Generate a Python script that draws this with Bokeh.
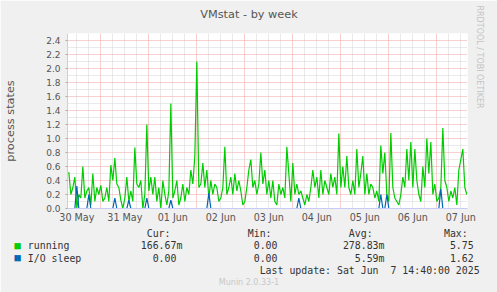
import numpy as np
from bokeh.plotting import figure
from bokeh.models import (FixedTicker, Grid, Label, PrintfTickFormatter, Range1d,
                          ColumnDataSource, Title)
from bokeh.embed import file_html
from bokeh.resources import INLINE

# ---------------- data ----------------
title_text = "VMstat - by week"
y_label = "process states"
# time axis in hours since 30 May 00:00
x_start_h = 7 + 20 / 60
x_span_h = 200
first_sample_h = 8
day_labels = ["30 May", "31 May", "01 Jun", "02 Jun", "03 Jun", "04 Jun", "05 Jun", "06 Jun", "07 Jun"]
y_ticks = [0.0, 0.2, 0.4, 0.6, 0.8, 1.0, 1.2, 1.4, 1.6, 1.8, 2.0, 2.2, 2.4]
y_max = 2.5

running = [
    0.52, 0.2, 0.3, 0.45, 0.0, 0.2, 0.15, 0.6, 0.15, 0.25, 0.3, 0.05, 0.5, 0.1, 0.3, 0.2, 0.33,
    0.1, 0.15, 0.3, 0.1, 0.62, 0.4, 0.72, 0.35, 0.3, 0.12, 0.0, 0.15, 0.45, 0.1, 0.25, 0.1, 0.87, 0.35, 0.3, 0.4, 0.0, 0.2, 1.2, 0.25,
    0.45, 0.2, 0.45, 0.1, 0.3, 0.0, 0.4, 0.2, 0.05, 0.25, 1.5, 0.15, 0.25, 0.4, 0.05, 0.15, 0.35, 0.1, 0.3, 0.2, 0.55, 0.35, 0.75, 2.1,
    0.3, 0.35, 0.65, 0.3, 0.55, 0.15, 0.4, 0.2, 0.35, 0.3, 0.1, 0.15, 0.3, 0.88, 0.2, 0.3, 0.45, 0.2, 0.5, 0.25, 0.4, 0.25, 0.05, 0.1,
    0.3, 0.55, 0.7, 0.3, 0.4, 0.2, 0.35, 0.8, 0.35, 0.55, 0.2, 0.4, 0.15, 0.4, 0.1, 0.05, 0.35, 0.2, 0.3, 0.15, 0.88, 0.5, 0.1, 0.65,
    0.2, 0.35, 0.2, 0.25, 0.15, 0.05, 0.2, 0.1, 0.3, 0.55, 0.3, 0.45, 0.15, 0.55, 0.2, 0.4, 0.3, 0.2, 0.5, 0.3, 0.45, 0.2, 1.07, 0.3,
    0.6, 0.3, 0.75, 0.3, 0.2, 0.4, 0.2, 0.85, 0.3, 0.5, 0.75, 0.2, 0.5, 0.2, 0.35, 0.3, 0.15, 0.25, 0.1, 0.9, 0.5, 0.8, 0.2, 0.1,
    1.08, 0.3, 0.15, 0.1, 0.05, 0.2, 0.45, 0.3, 0.85, 0.4, 0.95, 0.3, 0.85, 0.4, 0.2, 0.1, 0.6, 0.3, 1.0, 0.5, 0.95, 0.2, 0.35, 0.1,
    0.15, 0.3, 1.15, 0.4, 0.3, 0.1, 0.25, 0.15, 0.3, 0.05, 0.55, 0.7, 0.85, 0.3, 0.2,
]
io_sleep = [
    0, 0, 0, 0, 0.32, 0, 0, 0, 0, 0, 0.2, 0, 0, 0, 0, 0, 0,
    0, 0, 0, 0, 0, 0, 0.15, 0, 0, 0, 0, 0, 0, 0.12, 0, 0, 0, 0, 0, 0, 0, 0, 0.15, 0,
    0, 0, 0, 0, 0, 0, 0, 0, 0, 0, 0.12, 0, 0, 0, 0, 0, 0, 0, 0, 0, 0, 0, 0, 0,
    0, 0, 0, 0, 0, 0.22, 0, 0, 0, 0, 0, 0, 0, 0, 0, 0, 0, 0, 0, 0, 0, 0, 0, 0,
    0, 0, 0, 0, 0, 0, 0, 0, 0, 0, 0, 0, 0, 0, 0, 0, 0, 0, 0, 0, 0, 0, 0, 0,
    0, 0, 0.15, 0, 0, 0, 0, 0, 0, 0, 0, 0, 0, 0, 0, 0, 0, 0, 0, 0, 0, 0, 0, 0,
    0, 0, 0, 0, 0, 0, 0, 0, 0, 0, 0, 0, 0, 0, 0, 0, 0, 0, 0, 0.2, 0, 0, 0.2, 0,
    0, 0, 0, 0, 0, 0, 0, 0, 0, 0, 0, 0, 0, 0, 0, 0, 0, 0, 0, 0, 0, 0, 0, 0,
    0, 0.28, 0, 0, 0, 0, 0, 0, 0, 0, 0, 0, 0, 0, 0,
]
series_names = ["running", "I/O sleep"]
series_colors = ["#00CC00", "#0066B3"]
cur_vals = ["166.67m", "0.00"]
min_vals = ["0.00", "0.00"]
avg_vals = ["278.83m", "5.59m"]
max_vals = ["5.75", "1.62"]
col_headers = ["Cur:", "Min:", "Avg:", "Max:"]
last_update = "Last update: Sat Jun  7 14:40:00 2025"
watermark = "Munin 2.0.33-1"
side_text = "RRDTOOL / TOBI OETIKER"

# ---------------- layout ----------------
W, H = 497, 292
FL, FT, FW, FH = 67, 33, 400, 175
SANS = "DejaVu Sans"
MONO = "DejaVu Sans Mono"
TXT = "#333333"
AX = "#555555"
BG = "#F0F0F0"
NB = "\u00a0"

p = figure(width=W, height=H, frame_width=FW, frame_height=FH,
           output_backend="svg", toolbar_location=None,
           x_range=Range1d(x_start_h, x_start_h + x_span_h), y_range=Range1d(0, y_max),
           min_border_left=FL, min_border_right=W - FL - FW,
           min_border_top=FT, min_border_bottom=H - FT - FH,
           background_fill_color="white", border_fill_color=BG,
           outline_line_color=None)

p.add_layout(Title(text=side_text, align="left", offset=-28, standoff=14,
                   text_font=SANS, text_font_size="8px", text_font_style="normal",
                   text_color="#C4C4C4"), "right")

# grids
p.xgrid.visible = False
p.ygrid.visible = False
n_days = len(day_labels)
midnights = [24 * d for d in range(n_days + 1)]
six_h = [24 * d + h for d in range(-1, n_days + 1) for h in (6, 12, 18)]
noons = [24 * d + 12 for d in range(n_days)]
y_minor = [round(0.1 * i, 1) for i in range(0, 26) if round(0.1 * i, 1) not in y_ticks]

p.add_layout(Grid(dimension=0, ticker=FixedTicker(ticks=midnights, minor_ticks=six_h),
                  grid_line_color="#F2A0A0", grid_line_dash="1 1",
                  minor_grid_line_color="#D4D4D4", minor_grid_line_dash="1 1"))
p.add_layout(Grid(dimension=1, ticker=FixedTicker(ticks=y_ticks, minor_ticks=y_minor),
                  grid_line_color="#F2A0A0", grid_line_dash="1 1",
                  minor_grid_line_color="#D4D4D4", minor_grid_line_dash="1 1"))

# axes
ya = p.yaxis[0]
ya.ticker = FixedTicker(ticks=y_ticks)
ya.formatter = PrintfTickFormatter(format="%.1f")
ya.major_label_text_font = SANS
ya.major_label_text_font_size = "9px"
ya.major_label_text_color = AX
ya.major_tick_out = 2
ya.major_tick_in = 0
ya.major_tick_line_color = "#AAAAAA"
ya.minor_tick_line_color = None
ya.major_label_standoff = 5
ya.axis_line_color = "#C8CCF4"
ya.axis_label = y_label
ya.axis_label_text_font = SANS
ya.axis_label_text_font_size = "11.3px"
ya.axis_label_text_font_style = "normal"
ya.axis_label_text_color = AX
ya.axis_label_standoff = 26

xa = p.xaxis[0]
xa.ticker = FixedTicker(ticks=noons)
xa.major_label_overrides = {t: lab for t, lab in zip(noons, day_labels)}
xa.major_label_text_font = SANS
xa.major_label_text_font_size = "9.6px"
xa.major_label_text_color = AX
xa.major_tick_out = 0
xa.major_tick_in = 0
xa.minor_tick_line_color = None
xa.major_tick_line_color = None
xa.major_label_standoff = 3
xa.axis_line_color = "#C8CCF4"

# series
xs = first_sample_h + np.arange(len(running))
src = ColumnDataSource(dict(x=xs, running=running, io=io_sleep))
p.line("x", "running", source=src, color=series_colors[0], line_width=1.2)
p.line("x", "io", source=src, color=series_colors[1], line_width=1.2)


# ---------------- texts around the plot (canvas pixel -> data via the scales) ----------------
def dx(X):
    return x_start_h + (X - FL) * x_span_h / FW


def dy(Y):
    return (FT + FH - Y) * y_max / FH


def row(items):
    s = ""
    for col, t in items:
        s = s.ljust(col, NB) + t
    return s


LINE_H = 12.25
MONO_SIZE = 9.9
lines = [
    row([(20, col_headers[0]), (37, col_headers[1]), (54, col_headers[2]), (70, col_headers[3])]),
    row([(0, series_names[0]), (19, cur_vals[0]), (38, min_vals[0]), (53, avg_vals[0]), (71, max_vals[0])]),
    row([(0, series_names[1]), (21, cur_vals[1]), (38, min_vals[1]), (55, avg_vals[1]), (71, max_vals[1])]),
    row([(39, last_update.replace("  ", " " + NB))]),
]
first_line_y = 233.3
block_mid = first_line_y + LINE_H * (len(lines) - 1) / 2
p.add_layout(Label(x=dx(27.3), y=dy(block_mid), text="\n".join(lines),
                   text_font=MONO, text_font_size=f"{MONO_SIZE}px", text_line_height=1.14,
                   text_color=TXT, text_align="left", text_baseline="middle"), "below")

p.add_layout(Label(x=dx(248.5), y=dy(13.5), text=title_text, text_font=SANS, text_font_size="11.3px",
                   text_color=AX, text_align="center", text_baseline="middle"), "above")
p.add_layout(Label(x=dx(248.5), y=dy(281.5), text=watermark, text_font=SANS, text_font_size="8px",
                   text_color="#C8C8C8", text_align="center", text_baseline="middle"), "above")

# legend swatches (two full blocks of a small monospace font make a 6 px square)
for i, (c, side) in enumerate(zip(series_colors, ["above", "below"])):
    yc = first_line_y + LINE_H * (i + 1) - 0.5
    p.add_layout(Label(x=dx(17), y=dy(yc), text="\u2588\u2588", text_font=MONO, text_font_size="5.2px",
                       text_color=c, text_align="center", text_baseline="middle"), side)

open("out.html", "w").write(file_html(p, INLINE))
